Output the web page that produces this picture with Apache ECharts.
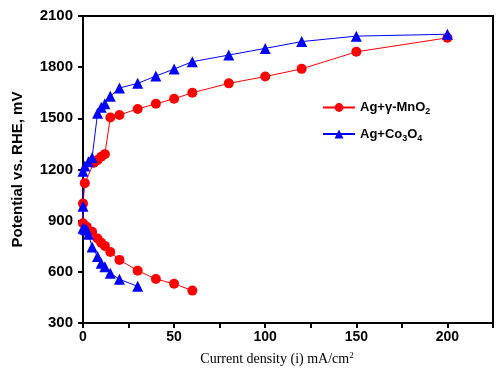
<!DOCTYPE html>
<html>
<head>
<meta charset="utf-8">
<script src="https://cdn.jsdelivr.net/npm/echarts@6/dist/echarts.min.js"></script>
<style>
  html, body { margin: 0; padding: 0; background: #fff; }
  #chart { width: 496px; height: 376px; }
</style>
</head>
<body>
<div id="chart"></div>
<script>
// Ag + gamma-MnO2: lower (ORR) branch then upper (OER) branch, in drawing order
const mnoCurrent   = [60, 50, 40, 30, 20, 15, 12, 10, 8, 5, 2, 0, 0, 1, 6, 8, 10, 12, 15, 20, 30, 40, 50, 60, 80, 100, 120, 150, 200];
const mnoPotential = [490, 530, 558, 607, 670, 716, 752, 770, 795, 835, 865, 885, 1000, 1120, 1240, 1255, 1275, 1290, 1505, 1520, 1555, 1585, 1615, 1650, 1705, 1745, 1790, 1890, 1972];

// Ag + Co3O4
const coCurrent   = [30, 20, 15, 12, 10, 8, 5, 3, 2, 1, 0, 0, 0, 1, 3, 5, 8, 10, 12, 15, 20, 30, 40, 50, 60, 80, 100, 120, 150, 200];
const coPotential = [515, 556, 592, 630, 650, 690, 745, 820, 845, 850, 855, 985, 1190, 1220, 1246, 1270, 1530, 1565, 1585, 1630, 1678, 1705, 1748, 1789, 1832, 1871, 1910, 1950, 1982, 1993];

const xTicks = [0, 50, 100, 150, 200];

const pairs = (xs, ys) => xs.map((x, i) => [x, ys[i]]);

const chart = echarts.init(document.getElementById('chart'));

const bold = { fontFamily: 'Liberation Sans', fontWeight: 'bold', color: '#000' };

const option = {
  animation: false,
  grid: {
    left: 83,
    top: 16,
    width: 416,
    height: 307,
    show: true,
    borderColor: '#000',
    borderWidth: 2
  },
  legend: {
    orient: 'vertical',
    left: 317,
    top: 96,
    itemWidth: 32,
    itemHeight: 11,
    itemGap: 11,
    data: ['mno', 'co'],
    formatter: (name) => name === 'mno'
      ? '{t|Ag+γ-MnO}{s|2}'
      : '{t|Ag+Co}{s|3}{t|O}{s|4}',
    textStyle: {
      rich: {
        t: { fontFamily: 'Liberation Sans', fontWeight: 'bold', fontSize: 13, color: '#000' },
        s: { fontFamily: 'Liberation Sans', fontWeight: 'bold', fontSize: 9, color: '#000', padding: [9, 0, 0, 0] }
      }
    }
  },
  xAxis: {
    type: 'value',
    min: 0,
    max: 225,
    interval: 25,
    name: '{t|Current density (i) mA/cm}{u|2}',
    nameLocation: 'middle',
    nameGap: 28,
    nameTextStyle: {
      padding: [0, 22, 0, 0],
      rich: {
        t: { fontFamily: 'Liberation Serif', fontSize: 14, color: '#000' },
        u: { fontFamily: 'Liberation Serif', fontSize: 9, color: '#000', padding: [0, 0, 8, 0] }
      }
    },
    axisLine: { lineStyle: { color: '#000', width: 2 } },
    axisTick: { lineStyle: { color: '#000', width: 2 }, length: 5 },
    axisLabel: Object.assign({
      fontSize: 14,
      margin: 7,
      formatter: (v) => xTicks.includes(v) ? String(v) : ''
    }, bold),
    splitLine: { show: false }
  },
  yAxis: {
    type: 'value',
    min: 300,
    max: 2100,
    interval: 300,
    name: 'Potential vs. RHE, mV',
    nameLocation: 'middle',
    nameGap: 58,
    nameTextStyle: Object.assign({ fontSize: 15 }, bold),
    axisLine: { show: true, lineStyle: { color: '#000', width: 2 } },
    axisTick: { show: true, lineStyle: { color: '#000', width: 2 }, length: 5 },
    axisLabel: Object.assign({ fontSize: 15, margin: 10, formatter: (v) => String(v) }, bold),
    splitLine: { show: false }
  },
  series: [
    {
      name: 'mno',
      type: 'line',
      data: pairs(mnoCurrent, mnoPotential),
      symbol: 'circle',
      symbolSize: 10,
      lineStyle: { color: '#ff0000', width: 1 },
      itemStyle: { color: '#ff0000' }
    },
    {
      name: 'co',
      type: 'line',
      data: pairs(coCurrent, coPotential),
      symbol: 'triangle',
      symbolSize: 11,
      lineStyle: { color: '#0000ff', width: 1 },
      itemStyle: { color: '#0000ff' }
    }
  ]
};

chart.setOption(option);
</script>
</body>
</html>
